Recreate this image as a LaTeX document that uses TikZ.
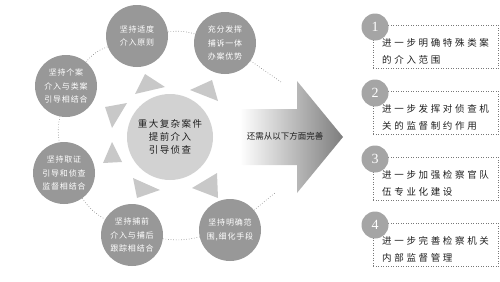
\documentclass[tikz,border=0pt]{standalone}
\usepackage{fontspec}
\setmainfont{Noto Sans CJK SC}
\newfontfamily\numfont{Liberation Serif}
\newfontfamily\cjkwide[LetterSpace=28]{Noto Sans CJK SC}
\newfontfamily\cjkmid[LetterSpace=15]{Noto Sans CJK SC}
\newfontfamily\cjknarrow[LetterSpace=10]{Noto Sans CJK SC}
\usepackage{tikz}
\usetikzlibrary{positioning}
\definecolor{petalgray}{RGB}{152,152,152}
\definecolor{hubgray}{RGB}{210,210,210}
\definecolor{raygray}{RGB}{200,200,200}
\definecolor{dotgray}{RGB}{120,120,120}
\definecolor{numgray}{RGB}{165,165,165}
\definecolor{arrowgray}{RGB}{125,125,125}
\definecolor{tipink}{RGB}{30,30,30}
\tikzset{
  petal/.style={circle, fill=petalgray, minimum size=62pt, inner sep=0pt, align=center,
    text=white, font=\cjknarrow\fontsize{8}{13.5}\selectfont},
  hub/.style={circle, fill=hubgray, minimum size=86pt, inner sep=0pt, align=center,
    text=tipink, font=\cjkmid\fontsize{9.5}{13}\selectfont},
  ray/.style={fill=raygray},
  ring/.style={dotted, draw=dotgray, line width=0.6pt},
  tipbox/.style={draw=dotgray, dotted, line width=0.5pt, minimum width=125pt,
    minimum height=43pt, inner sep=0pt, anchor=north west},
  tiptext/.style={anchor=west, align=left, text=tipink, inner sep=0pt,
    font=\cjkwide\fontsize{9.5}{17}\selectfont},
  numdot/.style={circle, fill=numgray, minimum size=27pt, inner sep=0pt, text=white,
    font=\numfont\fontsize{14}{14}\selectfont},
}
\begin{document}
\begin{tikzpicture}[x=1pt, y=-1pt]
  \useasboundingbox (0,0) rectangle (500,281);
  % outer ring of principles
  \node[petal] (c1) at (137,36) {坚持适度\\介入原则};
  \node[petal] (c2) at (225,43) {充分发挥\\捕诉一体\\办案优势};
  \node[petal] (c3) at (66,86) {坚持个案\\介入与类案\\引导相结合};
  \node[petal] (c4) at (64,173) {坚持取证\\引导和侦查\\监督相结合};
  \node[petal] (c5) at (132,235) {坚持捕前\\介入与捕后\\跟踪相结合};
  \node[petal] (c6) at (230,230) {坚持明确范\\围,细化手段};
  \coordinate (dt) at (281,82);
  \coordinate (db) at (276,192);
  \draw[ring] (c3) to[bend left=15] (c1);
  \draw[ring] (c1) to[bend left=12] (c2);
  \draw[ring] (c2) -- (dt);
  \draw[ring] (c3) to[bend right=10] (c4);
  \draw[ring] (c4) to[bend right=12] (c5);
  \draw[ring] (c5) to[bend right=10] (c6);
  \draw[ring] (c6) -- (db);
  % rays round the hub
  \fill[ray] (145,74) -- (135,94) -- (165,87) -- cycle;
  \fill[ray] (212,80) -- (190,90) -- (218,101) -- cycle;
  \fill[ray] (105,107) -- (127,103) -- (112,128) -- cycle;
  \fill[ray] (112,142) -- (103,163) -- (122,162) -- cycle;
  \fill[ray] (133,178) -- (160,190) -- (137,198) -- cycle;
  \fill[ray] (217,173) -- (192,188) -- (218,198) -- cycle;
  \node[hub] (hub) at (170,137) {重大复杂案件\\提前介入\\引导侦查};
  % big arrow
  \shade[left color=white, right color=arrowgray]
    (240,109) -- (297,109) -- (297,81) -- (343,137) -- (297,193) -- (297,165) -- (240,165) -- cycle;
  \node[font=\fontsize{8.5}{10}\selectfont, text=tipink, inner sep=0pt] (arrtext) at (285,136) {还需从以下方面完善};
  % measures
  \node[tipbox] (b1) at (373,25) {};
  \node[tiptext] (t1) at (382,51.5) {进一步明确特殊类案\\的介入范围};
  \node[numdot] (n1) at (375,27) {1};
  \node[tipbox] (b2) at (373,91) {};
  \node[tiptext] (t2) at (382,117.5) {进一步发挥对侦查机\\关的监督制约作用};
  \node[numdot] (n2) at (375,93) {2};
  \node[tipbox] (b3) at (373,157) {};
  \node[tiptext] (t3) at (382,183.5) {进一步加强检察官队\\伍专业化建设};
  \node[numdot] (n3) at (375,159) {3};
  \node[tipbox] (b4) at (373,223) {};
  \node[tiptext] (t4) at (382,249.5) {进一步完善检察机关\\内部监督管理};
  \node[numdot] (n4) at (375,225) {4};
\end{tikzpicture}
\end{document}
